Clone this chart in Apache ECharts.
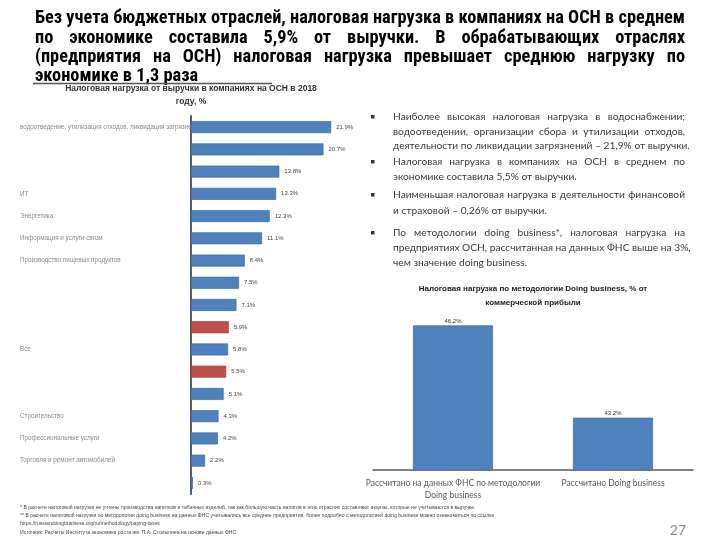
<!DOCTYPE html>
<html><head><meta charset="utf-8">
<script src="https://cdn.jsdelivr.net/npm/echarts@6/dist/echarts.min.js"></script>
<style>html,body{margin:0;padding:0;background:#fff}#c{width:720px;height:540px}</style>
</head><body><div id="c"></div>
<script>
// ---------- data ----------
const headingLines = [
  "Без учета бюджетных отраслей, налоговая нагрузка в компаниях на ОСН в среднем",
  "по экономике составила 5,9% от выручки. В обрабатывающих отраслях",
  "(предприятия на ОСН) налоговая нагрузка превышает среднюю нагрузку по",
  "экономике в 1,3 раза"
];
const leftTitleLines = ["Налоговая нагрузка от выручки в компаниях на ОСН в 2018", "году, %"];
const leftLabels = [
  "водоотведение, утилизация отходов, ликвидация загрязнений",
  "", "", "ИТ", "Энергетика", "Информация и услуги связи",
  "Производство пищевых продуктов", "", "", "", "Все", "", "",
  "Строительство", "Профессиональные услуги", "Торговля и ремонт автомобилей", ""
];
const leftValues = [21.9, 20.7, 13.8, 13.3, 12.3, 11.1, 8.4, 7.5, 7.1, 5.9, 5.8, 5.5, 5.1, 4.3, 4.2, 2.2, 0.3];
const leftHighlighted = [9, 11];
const rightTitleLines = ["Налоговая нагрузка по методологии Doing business, % от", "коммерческой прибыли"];
const rightCategories = ["Рассчитано на данных ФНС по методологии\nDoing business", "Рассчитано Doing business"];
const rightValues = [46.2, 43.2];
const bulletParagraphs = [
  ["Наиболее высокая налоговая нагрузка в водоснабжении;", "водоотведении, организации сбора и утилизации отходов,", "деятельности по ликвидации загрязнений – 21,9% от выручки."],
  ["Налоговая нагрузка в компаниях на ОСН в среднем по", "экономике составила 5,5% от выручки."],
  ["Наименьшая налоговая нагрузка в деятельности финансовой", "и страховой – 0,26% от выручки."],
  ["По методологии doing business*, налоговая нагрузка на", "предприятиях ОСН, рассчитанная на данных ФНС выше на 3%,", "чем значение doing business."]
];
const footnotes = [
  "* В расчете налоговой нагрузки не учтены производства напитков и табачных изделий, так как большую часть налогов в этих отраслях составляют акцизы, которые не учитываются в выручке.",
  "** В расчете налоговой нагрузки по методологии doing business на данных ФНС учитывались все средние предприятия, более подробно с методологией doing business можно ознакомиться по ссылке",
  "https://russiandoingbusiness.org/ru/methodology/paying-taxes",
  "Источник: Расчеты Института экономики роста им. П.А. Столыпина на основе данных ФНС"
];
const pageNumber = "27";

// ---------- helpers ----------
const mctx = document.createElement('canvas').getContext('2d');
function measure(text, weight, size, family) {
  mctx.font = weight + ' ' + size + 'px ' + family;
  return mctx.measureText(text).width;
}
function textEl(text, x, y, o) {
  return { type: 'text', x: x, y: y, silent: true,
    style: Object.assign({ text: text, fill: '#000', fontSize: 12, fontFamily: 'Liberation Sans', fontWeight: 'normal', align: 'left', verticalAlign: 'middle' }, o) };
}
function justifyLine(text, x0, x1, y, weight, size, family, fill) {
  const words = text.split(' ');
  const widths = words.map(w => measure(w, weight, size, family));
  const total = widths.reduce((a, b) => a + b, 0);
  const minGap = measure(' ', weight, size, family);
  let gap = words.length > 1 ? (x1 - x0 - total) / (words.length - 1) : 0;
  if (gap < minGap) gap = minGap;
  const els = [];
  let x = x0;
  words.forEach((w, i) => {
    els.push(textEl(w, x, y, { fontSize: size, fontWeight: weight, fontFamily: family, fill: fill }));
    x += widths[i] + gap;
  });
  return els;
}

const graphics = [];
// heading
const hFam = "'Roboto Condensed', 'Liberation Sans', sans-serif";
let hSize = 16 * 650 / measure(headingLines[0], 'bold', 16, hFam);
hSize = Math.min(hSize, 18.5);
const headY = [18, 38, 57.5, 76];
headingLines.forEach((ln, i) => {
  if (i < 3) graphics.push(...justifyLine(ln, 35, 685, headY[i], 'bold', hSize, hFam, '#000'));
  else graphics.push(textEl(ln, 35, headY[i], { fontSize: hSize, fontWeight: 'bold', fontFamily: hFam, fill: '#000' }));
});
graphics.push({ type: 'line', silent: true, shape: { x1: 33, y1: 83.5, x2: 272, y2: 83.5 }, style: { stroke: '#555', lineWidth: 1.5 } });

// left chart title
leftTitleLines.forEach((ln, i) => graphics.push(textEl(ln, 191, 89 + i * 13, { fontSize: 8.5, fontWeight: 'bold', fontFamily: 'Liberation Sans', fill: '#333', align: 'center' })));
// right chart title
rightTitleLines.forEach((ln, i) => graphics.push(textEl(ln, 533, 289 + i * 13.5, { fontSize: 8, fontWeight: 'bold', fontFamily: 'Liberation Sans', fill: '#222', align: 'center' })));

// bullets
const bFam = "Lato, 'Open Sans', sans-serif";
const bSize = 10.2;
const bulletY = [[117, 131.5, 146], [162, 176.5], [195, 211], [233, 248, 262.5]];
bulletParagraphs.forEach((para, p) => {
  graphics.push({ type: 'rect', silent: true, shape: { x: 371, y: bulletY[p][0] - 2, width: 3.5, height: 3.5 }, style: { fill: '#333' } });
  para.forEach((ln, i) => {
    const y = bulletY[p][i];
    if (i < para.length - 1) graphics.push(...justifyLine(ln, 393, 685, y, 'normal', bSize, bFam, '#3a3a3a'));
    else graphics.push(textEl(ln, 393, y, { fontSize: bSize, fontFamily: bFam, fill: '#3a3a3a' }));
  });
});

// footnotes
footnotes.forEach((ln, i) => graphics.push(textEl(ln, 20, 507.5 + i * 8.2, { fontSize: 5.1, fontFamily: 'Liberation Sans', fill: '#444' })));
graphics.push(textEl(pageNumber, 686, 530, { fontSize: 14, fontFamily: "Lato, 'Open Sans', sans-serif", fill: '#8a8a8a', align: 'right' }));

// ---------- chart ----------
const chart = echarts.init(document.getElementById('c'), null, { renderer: 'canvas' });
const blue = '#4f81bd', red = '#c0504d';
chart.setOption({
  animation: false,
  backgroundColor: '#fff',
  grid: [
    { left: 191, top: 116, width: 160, height: 378 },
    { left: 373, top: 310, width: 320, height: 160 }
  ],
  xAxis: [
    { gridIndex: 0, type: 'value', min: 0, max: 25, show: false },
    { gridIndex: 1, type: 'category', data: rightCategories,
      axisLine: { lineStyle: { color: '#595959', width: 1.5 } }, axisTick: { show: false },
      axisLabel: { interval: 0, hideOverlap: false, color: '#595959', fontSize: 8.5, fontFamily: "Lato, 'Liberation Sans'", lineHeight: 12, margin: 7 } }
  ],
  yAxis: [
    { gridIndex: 0, type: 'category', inverse: true, data: leftValues.map((v, i) => String(i)),
      axisLine: { lineStyle: { color: '#5a5a5a', width: 2 } }, axisTick: { show: false },
      axisLabel: { interval: 0, align: 'left', margin: 171, fontSize: 6.3, color: '#8a8a8a', fontFamily: 'Liberation Sans',
        formatter: (v, i) => leftLabels[i] } },
    { gridIndex: 1, type: 'value', min: 41.5, max: 46.7, show: false }
  ],
  series: [
    { type: 'bar', xAxisIndex: 0, yAxisIndex: 0, barWidth: 12,
      data: leftValues.map((v, i) => ({ value: v, itemStyle: leftHighlighted.includes(i) ? { color: red, borderColor: '#a0403d', borderWidth: 0.7 } : { color: blue, borderColor: '#3d6aa0', borderWidth: 0.7 } })),
      label: { show: true, position: 'right', distance: 5, fontSize: 6, color: '#444', fontFamily: 'Liberation Sans', formatter: p => p.value.toFixed(1) + '%' } },
    { type: 'bar', xAxisIndex: 1, yAxisIndex: 1, barWidth: 80,
      data: rightValues,
      itemStyle: { color: blue, borderColor: '#3d6aa0', borderWidth: 0.7 },
      label: { show: true, position: 'top', distance: 1, fontSize: 6, color: '#333', fontFamily: 'Liberation Sans', formatter: p => p.value.toFixed(1) + '%' } }
  ],
  graphic: graphics
});
</script></body></html>
